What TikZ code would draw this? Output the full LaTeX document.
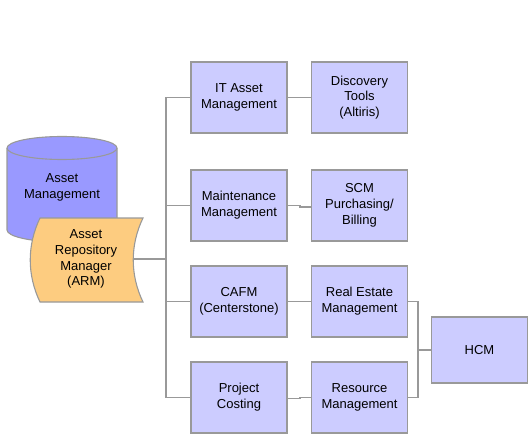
\documentclass[tikz,border=0pt]{standalone}
\usepackage{fontspec}
\setmainfont{Liberation Sans}
\begin{document}
\begin{tikzpicture}[x=1pt,y=-1pt,
  line/.style={draw=linegray,line width=1.3pt},
  box/.style={draw=linegray,line width=1.3pt,fill=boxblue,minimum width=96pt,minimum height=71pt,
    inner sep=0pt,align=center,font=\fontsize{13}{15.8}\selectfont},
  lbl/.style={inner sep=0pt,align=center,font=\fontsize{13}{15.8}\selectfont}]
\definecolor{linegray}{HTML}{999999}
\definecolor{boxblue}{HTML}{CCCCFF}
\definecolor{cylblue}{HTML}{9999FF}
\definecolor{armorange}{HTML}{FDCC80}
\useasboundingbox (0,0) rectangle (531,436);
% cylinder
\path[draw=linegray,line width=1.1pt,fill=cylblue]
  (7,148) -- (7,230) arc[start angle=180,end angle=360,x radius=55,y radius=-12]
  -- (117,148) arc[start angle=0,end angle=180,x radius=55,y radius=-11.5] -- cycle;
\draw[linegray,line width=1.1pt] (7,148) arc[start angle=180,end angle=360,x radius=55,y radius=-11.5];
\node[lbl] (am) at (62,187) {Asset\\Management};
% ARM shape
\path[draw=linegray,line width=1.1pt,fill=armorange]
  (40,218) -- (143,218) .. controls (130,245) and (130,275) .. (143,302)
  -- (40,302) .. controls (27,275) and (27,245) .. (40,218) -- cycle;
\node[lbl] (arm) at (86,259) {Asset\\Repository\\Manager\\(ARM)};
\coordinate (armR) at (133,259);
% boxes
\node[box] (ita) at (239,97.5) {IT Asset\\Management};
\node[box] (disc) at (359.5,97.5) {Discovery\\Tools\\(Altiris)};
\node[box] (maint) at (239,205.5) {Maintenance\\Management};
\node[box] (scm) at (359.5,205.5) {SCM\\Purchasing/\\Billing};
\node[box] (cafm) at (239,301.5) {CAFM\\(Centerstone)};
\node[box] (rem) at (359.5,301.5) {Real Estate\\Management};
\node[box] (pc) at (239,397.5) {Project\\Costing};
\node[box] (rm) at (359.5,397.5) {Resource\\Management};
\node[box,minimum height=66pt] (hcm) at (479.5,350) {HCM};
% trunk
\coordinate (tTop) at (166,97.5);
\coordinate (tBot) at (166,397.5);
\draw[line] (tTop) -- (tBot);
\draw[line] (armR) -- (166,259);
\draw[line] (tTop) -- (ita.west);
\draw[line] (166,205.5) -- (maint.west);
\draw[line] (166,301.5) -- (cafm.west);
\draw[line] (tBot) -- (pc.west);
% second column
\draw[line] (ita.east) -- (disc.west);
\draw[line] (maint.east) -- (300,205.5) -- (300,207) -- (scm.west |- 0,207);
\draw[line] (cafm.east) -- (rem.west);
\draw[line] (pc.east |- 0,398.5) -- (300,398.5) -- (300,397.5) -- (rm.west);
% to HCM
\coordinate (hj) at (418,350);
\draw[line] (rem.east) -| (hj) |- (rm.east);
\draw[line] (hj) -- (hcm.west);
\end{tikzpicture}
\end{document}
